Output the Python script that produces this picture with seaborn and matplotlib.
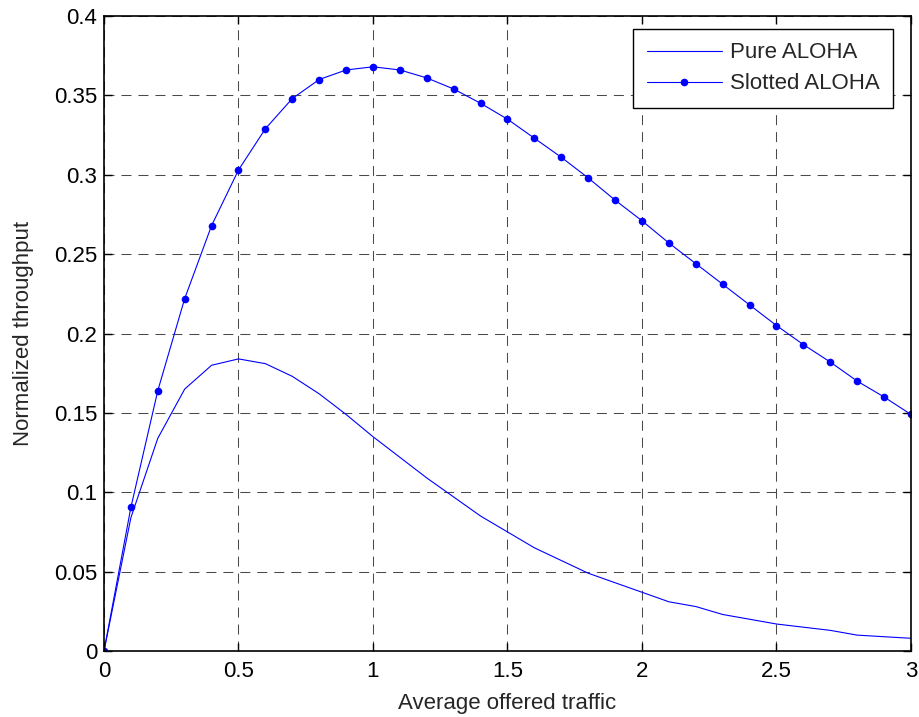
import numpy as np
import pandas as pd
import matplotlib
matplotlib.use("Agg")
import matplotlib.pyplot as plt
import seaborn as sns

offered_traffic = [0.0, 0.1, 0.2, 0.3, 0.4, 0.5, 0.6, 0.7, 0.8, 0.9, 1.0,
                   1.1, 1.2, 1.3, 1.4, 1.5, 1.6, 1.7, 1.8, 1.9, 2.0,
                   2.1, 2.2, 2.3, 2.4, 2.5, 2.6, 2.7, 2.8, 2.9, 3.0]
pure_aloha = [0.0, 0.084, 0.134, 0.165, 0.180, 0.184, 0.181, 0.173, 0.162, 0.149, 0.135,
              0.122, 0.109, 0.097, 0.085, 0.075, 0.065, 0.057, 0.049, 0.043, 0.037,
              0.031, 0.028, 0.023, 0.020, 0.017, 0.015, 0.013, 0.010, 0.009, 0.008]
slotted_aloha = [0.0, 0.0905, 0.164, 0.222, 0.268, 0.303, 0.329, 0.348, 0.360, 0.366, 0.368,
                 0.366, 0.361, 0.354, 0.345, 0.335, 0.323, 0.311, 0.298, 0.284, 0.271,
                 0.257, 0.244, 0.231, 0.218, 0.205, 0.193, 0.182, 0.170, 0.160, 0.149]
x_ticks = [0, 0.5, 1, 1.5, 2, 2.5, 3]
x_tick_labels = ["0", "0.5", "1", "1.5", "2", "2.5", "3"]
y_ticks = [0, 0.05, 0.1, 0.15, 0.2, 0.25, 0.3, 0.35, 0.4]
y_tick_labels = ["0", "0.05", "0.1", "0.15", "0.2", "0.25", "0.3", "0.35", "0.4"]

sns.set_theme(style="white")
plt.rcParams['font.family'] = ['Liberation Sans', 'DejaVu Sans']

FS = 16
fig = plt.figure(figsize=(9.2, 7.17), dpi=100)
ax = fig.add_axes([104/920, 66/717, 807/920, 635/717])

df = pd.DataFrame({"G": offered_traffic, "pure": pure_aloha, "slotted": slotted_aloha})
sns.lineplot(data=df, x="G", y="pure", ax=ax, color="#0000ff", linewidth=0.8,
             label="Pure ALOHA")
sns.lineplot(data=df, x="G", y="slotted", ax=ax, color="#0000ff", linewidth=0.8,
             marker="o", markersize=5.5, markeredgewidth=0, label="Slotted ALOHA")

ax.set_xlim(0, 3)
ax.set_ylim(0, 0.4)
ax.set_xticks(x_ticks)
ax.set_xticklabels(x_tick_labels, fontsize=FS)
ax.set_yticks(y_ticks)
ax.set_yticklabels(y_tick_labels, fontsize=FS)
ax.set_xlabel("Average offered traffic", fontsize=FS, labelpad=8)
ax.set_ylabel("Normalized throughput", fontsize=FS, labelpad=14)

ax.grid(True, color="#4a4a4a", linestyle=(0, (9.6, 6.7)), linewidth=0.75)
for s in ax.spines.values():
    s.set_color("black")
    s.set_linewidth(1.2)
ax.tick_params(direction="in", length=6, width=1, colors="black", top=True, right=True,
               bottom=True, left=True, labelcolor="black")
ax.tick_params(axis="x", pad=7)
ax.tick_params(axis="y", pad=5)

leg = ax.legend(loc="upper right", bbox_to_anchor=(0.9777, 0.9795), borderaxespad=0,
                fontsize=FS, frameon=True, fancybox=False, edgecolor="black",
                framealpha=1, handlelength=3.4, handletextpad=0.35, borderpad=0.6,
                labelspacing=0.45)
leg.get_frame().set_linewidth(1.0)

fig.savefig("out.png", dpi=100)
